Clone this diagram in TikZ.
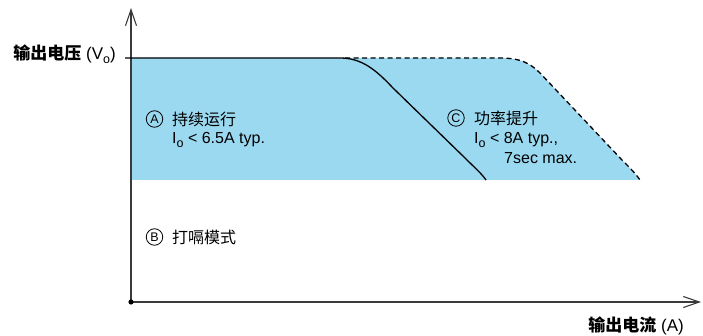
\documentclass[tikz,border=0pt]{standalone}
\usepackage{fontspec}
\setmainfont{Liberation Sans}
\newfontfamily\cjk{Noto Sans CJK SC}
\usetikzlibrary{arrows.meta}
\definecolor{fillblue}{HTML}{9BD9F1}
\definecolor{axisgray}{HTML}{3A3A3A}
\newcommand{\subo}{\raisebox{-0.5ex}{\fontsize{12.5}{12}\selectfont o}}

\begin{document}
\begin{tikzpicture}[x=1pt,y=-1pt,
    axis/.style={line width=1.2pt, axisgray, -{Straight Barb[length=16pt,width=11pt,line width=1.1pt]}},
    lbl/.style={inner sep=0pt, anchor=west, font=\fontsize{16}{19}\selectfont},
    axlbl/.style={inner sep=0pt, anchor=east, font=\fontsize{17}{19}\selectfont},
    tag/.style={circle, draw, line width=0.8pt, inner sep=0pt, minimum size=16.5pt,
      font=\fontsize{12.5}{12}\selectfont}]
  \useasboundingbox (0,0) rectangle (703,336);
  % area below the curves
  \fill[fillblue] (131,58) -- (500,58) .. controls (520,58) and (530,63) .. (540,73)
    -- (622,160) .. controls (630,168) and (636,174) .. (640,180) -- (131,180) -- cycle;
  \draw[axis] (131,302) -- (131,8);
  \draw[axis] (131,302) -- (701,302);
  \fill[black] (131,302) circle (2.6);
  \draw[line width=1.3pt, dash pattern=on 5pt off 3.5pt] (345,58) -- (500,58)
    .. controls (520,58) and (530,63) .. (540,73) -- (622,160)
    .. controls (630,168) and (636,174) .. (640,180);
  \draw[line width=1.3pt] (125,58) -- (340,58) .. controls (362,58) and (376,70) .. (393,88)
    -- (465,158) .. controls (475,168) and (482,174) .. (486,180);
  % labels
  \node[axlbl] (vout) at (116,54) {{\cjk\bfseries 输出电压} (V\subo)};
  \node[axlbl] (iout) at (684,326) {{\cjk\bfseries 输出电流} (A)};
  \node[tag] (circA) at (154.5,119) {A};
  \node[lbl] (nameA) at (172,119) {\cjk 持续运行};
  \node[lbl] (limA) at (172,140) {I\subo{} < 6.5A typ.};
  \node[tag] (circB) at (154.5,237) {B};
  \node[lbl] (nameB) at (172,237) {\cjk 打嗝模式};
  \node[tag] (circC) at (456,118) {C};
  \node[lbl] (nameC) at (474,118) {\cjk 功率提升};
  \node[lbl] (limC) at (474,140) {I\subo{} < 8A typ.,};
  \node[lbl] (timeC) at (504,158) {7sec max.};
\end{tikzpicture}
\end{document}
